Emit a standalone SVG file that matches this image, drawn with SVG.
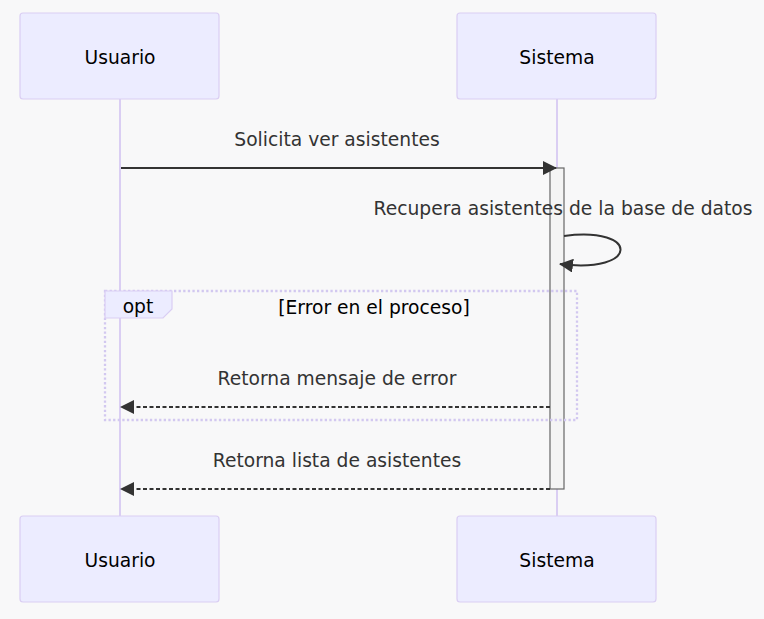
<svg xmlns="http://www.w3.org/2000/svg" width="764" height="619" viewBox="0 0 764 619">
<style>
.actor{fill:#ECECFF;stroke:#dacef3;stroke-width:1.2}
.atext{font-family:"DejaVu Sans",sans-serif;font-size:18.7px;fill:#000;text-anchor:middle;dominant-baseline:central}
.life{stroke:#dacef3;stroke-width:2}
.msg{font-family:"DejaVu Sans",sans-serif;font-size:18.7px;fill:#333;text-anchor:middle}
.solid{stroke:#333;stroke-width:2;fill:none}
.dash{stroke:#333;stroke-width:2;fill:none;stroke-dasharray:4,2.5}
.loop{stroke:#d2c8f0;stroke-width:2.3;fill:none;stroke-dasharray:2.3,2.3}
.ltext{font-family:"DejaVu Sans",sans-serif;font-size:18.7px;fill:#000;text-anchor:middle}
</style>
<defs>
<marker id="arrow" viewBox="0 0 14 14" refX="13" refY="7" markerWidth="14" markerHeight="14" markerUnits="userSpaceOnUse" orient="auto">
<path d="M0,0 L14,7 L0,14 z" fill="#333"/>
</marker>
</defs>
<rect width="764" height="619" fill="#f8f8f9"/>
<g id="lifelines">
<line class="life" x1="120" y1="99" x2="120" y2="516"/>
<line class="life" x1="557" y1="99" x2="557" y2="516"/>
</g>
<g id="actor-usuario-top"><rect class="actor" x="20" y="13" width="199" height="86" rx="3"/><text class="atext" x="120" y="57">Usuario</text></g>
<g id="actor-sistema-top"><rect class="actor" x="457" y="13" width="199" height="86" rx="3"/><text class="atext" x="557" y="57">Sistema</text></g>
<g id="actor-usuario-bottom"><rect class="actor" x="20" y="516" width="199" height="86" rx="3"/><text class="atext" x="120" y="560">Usuario</text></g>
<g id="actor-sistema-bottom"><rect class="actor" x="457" y="516" width="199" height="86" rx="3"/><text class="atext" x="557" y="560">Sistema</text></g>
<g id="activation"><rect x="550" y="168" width="14" height="321" fill="#f4f4f4" stroke="#666" stroke-width="1.2"/></g>
<g id="opt-frame">
<rect class="loop" x="105" y="291" width="472" height="129"/>
<polygon points="105,291 172,291 172,309 163,318 105,318" fill="#ECECFF" stroke="#dacef3" stroke-width="1.2"/>
<text class="ltext" x="138" y="313">opt</text>
<text class="ltext" x="374" y="314">[Error en el proceso]</text>
</g>
<g id="connectors">
<text class="msg" x="337" y="146">Solicita ver asistentes</text>
<line class="solid" x1="121" y1="168" x2="556" y2="168" marker-end="url(#arrow)"/>
<text class="msg" x="563" y="215">Recupera asistentes de la base de datos</text>
<path class="solid" d="M564,236 C640,226 640,274 560,264" marker-end="url(#arrow)"/>
<text class="msg" x="337" y="385">Retorna mensaje de error</text>
<line class="dash" x1="550" y1="407" x2="121" y2="407" marker-end="url(#arrow)"/>
<text class="msg" x="337" y="467">Retorna lista de asistentes</text>
<line class="dash" x1="550" y1="489" x2="121" y2="489" marker-end="url(#arrow)"/>
</g>
</svg>
